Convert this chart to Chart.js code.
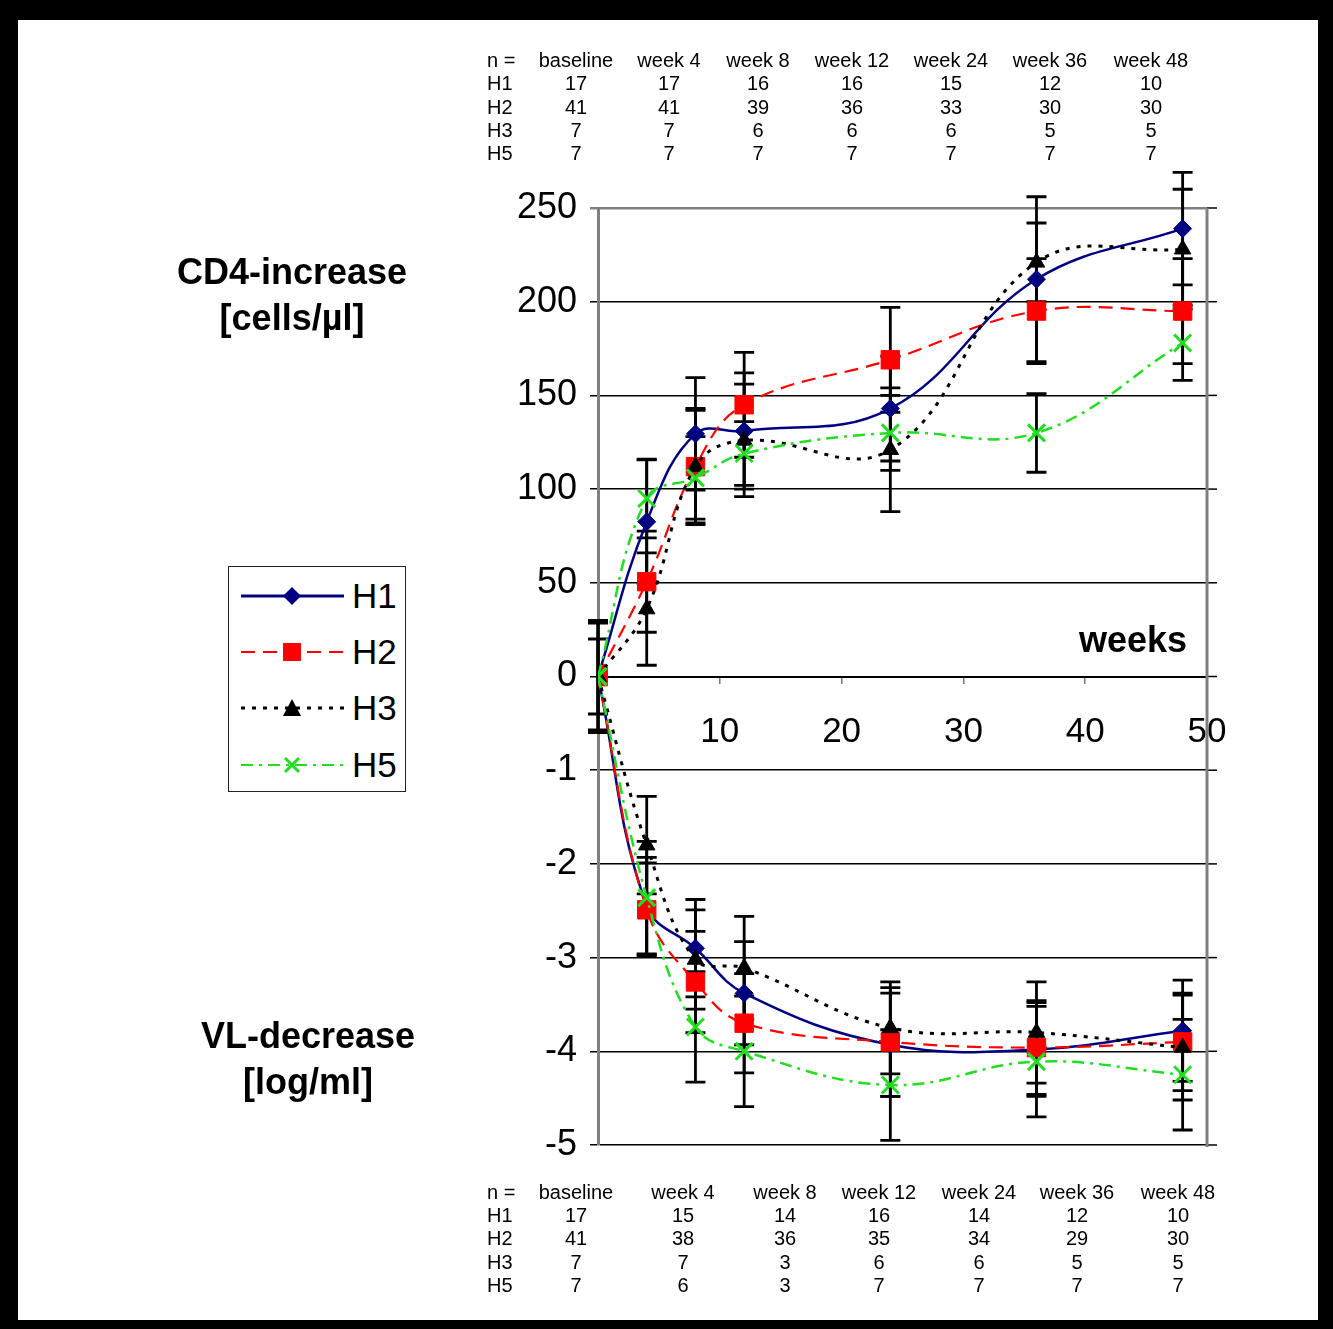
<!DOCTYPE html>
<html><head><meta charset="utf-8">
<script src="https://cdn.jsdelivr.net/npm/chart.js@4"></script>
<style>
html,body{margin:0;padding:0;}
body{width:1333px;height:1329px;background:#000;position:relative;overflow:hidden;font-family:"Liberation Sans",Arial,sans-serif;color:#000;}
#paper{position:absolute;left:18px;top:20px;width:1300px;height:1300px;background:#fff;}
#c{position:absolute;left:0;top:0;}
.cell{position:absolute;font-size:20px;line-height:23px;white-space:nowrap;}
.ctr{transform:translateX(-50%);}
.title{position:absolute;font-weight:bold;font-size:36px;line-height:46px;text-align:center;white-space:nowrap;}
#legend{position:absolute;left:228px;top:566px;width:176px;height:224px;border:1.5px solid #222;background:#fff;}
.lg{position:absolute;left:123px;font-size:35px;line-height:40px;}
</style>
</head><body>
<div id="paper"></div>
<canvas id="c" width="1333" height="1329"></canvas>
<div class="title" style="left:150px;width:284px;top:249px;">CD4-increase<br>[cells/µl]</div>
<div class="title" style="left:158px;width:300px;top:1013px;">VL-decrease<br>[log/ml]</div>
<div class="title" style="left:1040px;width:147px;top:617px;text-align:right;">weeks</div>
<div id="legend">
<svg width="176" height="224" style="position:absolute;left:0;top:0">
 <line x1="12" y1="29" x2="115" y2="29" stroke="#000080" stroke-width="3"/>
 <polygon points="63,20 72,29 63,38 54,29" fill="#000080"/>
 <line x1="12" y1="85" x2="115" y2="85" stroke="#ff0000" stroke-width="2" stroke-dasharray="14 8"/>
 <rect x="54" y="76" width="18" height="18" fill="#ff0000"/>
 <line x1="12" y1="141" x2="115" y2="141" stroke="#000" stroke-width="3" stroke-dasharray="4 7"/>
 <polygon points="63,132 72,149 54,149" fill="#000"/>
 <line x1="12" y1="198" x2="115" y2="198" stroke="#22dd22" stroke-width="2" stroke-dasharray="12 6 3 6"/>
 <line x1="56" y1="191" x2="70" y2="205" stroke="#22dd22" stroke-width="3"/>
 <line x1="70" y1="191" x2="56" y2="205" stroke="#22dd22" stroke-width="3"/>
</svg>
<div class="lg" style="top:9px">H1</div>
<div class="lg" style="top:65px">H2</div>
<div class="lg" style="top:121px">H3</div>
<div class="lg" style="top:178px">H5</div>
</div>
<script>
// ---- data ----
const weeks = [0, 4, 8, 12, 24, 36, 48];
const seriesNames = ['H1', 'H2', 'H3', 'H5'];

// CD4 increase [cells/µl]
const cd4H1 = [0, 82.6, 129.5, 131, 143, 212, 239];
const cd4H2 = [0, 50.6, 112, 145, 169, 195, 195];
const cd4H3 = [0, 36, 112, 126, 121, 221, 228];
const cd4H5 = [0, 95, 106, 119, 130, 130, 178];
const cd4ErrH1 = [0, 33, 30, 31, 28, 44, 30];
const cd4ErrH2 = [0, 27, 31, 28, 28, 28, 28];
const cd4ErrH3 = [0, 30, 30, 30, 33, 21, 32];
const cd4ErrH5 = [0, 21, 22, 17, 20, 21, 20];

// VL decrease [log/ml]
const vlH1 = [0, -2.45, -2.90, -3.38, -3.93, -3.98, -3.78];
const vlH2 = [0, -2.49, -3.26, -3.70, -3.90, -3.96, -3.90];
const vlH3 = [0, -1.80, -3.02, -3.11, -3.75, -3.80, -3.96];
const vlH5 = [0, -2.36, -3.74, -4.00, -4.36, -4.11, -4.25];
const vlErrH1 = [0.60, 0.52, 0.52, 0.55, 0.55, 0.50, 0.54];
const vlErrH2 = [0.58, 0.50, 0.54, 0.53, 0.58, 0.50, 0.52];
const vlErrH3 = [0.40, 0.52, 0.53, 0.55, 0.49, 0.54, 0.56];
const vlErrH5 = [0.57, 0.60, 0.59, 0.59, 0.59, 0.59, 0.59];

// tick labels of the shared vertical axis (bottom to top)
const yTickLabels = ['-5', '-4', '-3', '-2', '-1', '0', '50', '100', '150', '200', '250'];

// n tables
const tableCols = ['baseline', 'week 4', 'week 8', 'week 12', 'week 24', 'week 36', 'week 48'];
const nCd4H1 = [17, 17, 16, 16, 15, 12, 10];
const nCd4H2 = [41, 41, 39, 36, 33, 30, 30];
const nCd4H3 = [7, 7, 6, 6, 6, 5, 5];
const nCd4H5 = [7, 7, 7, 7, 7, 7, 7];
const nVlH1 = [17, 15, 14, 16, 14, 12, 10];
const nVlH2 = [41, 38, 36, 35, 34, 29, 30];
const nVlH3 = [7, 7, 3, 6, 6, 5, 5];
const nVlH5 = [7, 6, 3, 7, 7, 7, 7];

// ---- layout of the n tables ----
const topColX = [576, 669, 758, 852, 951, 1050, 1151];
const botColX = [576, 683, 785, 879, 979, 1077, 1178];
const topRowY = [60, 83, 107, 130, 153];
const botRowY = [1192, 1215, 1238, 1262, 1285];
const rowLabelX = 487;

function addCell(text, x, y, center) {
  const d = document.createElement('div');
  d.className = 'cell' + (center ? ' ctr' : '');
  d.textContent = text;
  d.style.left = x + 'px';
  d.style.top = (y - 11.5) + 'px';
  document.body.appendChild(d);
}
function buildTable(colX, rowY, rows) {
  addCell('n =', rowLabelX, rowY[0], false);
  tableCols.forEach((c, i) => addCell(c, colX[i], rowY[0], true));
  rows.forEach((r, j) => {
    addCell(seriesNames[j], rowLabelX, rowY[j + 1], false);
    r.forEach((v, i) => addCell(String(v), colX[i], rowY[j + 1], true));
  });
}
buildTable(topColX, topRowY, [nCd4H1, nCd4H2, nCd4H3, nCd4H5]);
buildTable(botColX, botRowY, [nVlH1, nVlH2, nVlH3, nVlH5]);

// ---- chart ----
Chart.defaults.font.family = "'Liberation Sans', Arial, sans-serif";
const styles = [
  {color: '#000080', dash: [], width: 2.5, pointStyle: 'rectRot', radius: 9, pbw: 1},
  {color: '#ff0000', dash: [14, 8], width: 2.2, pointStyle: 'rect', radius: 13, pbw: 1},
  {color: '#000000', dash: [4, 7], width: 3, pointStyle: 'triangle', radius: 9.5, pbw: 1},
  {color: '#22dd22', dash: [12, 6, 3, 6], width: 2.5, pointStyle: 'crossRot', radius: 12, pbw: 3}
];
const cd4 = [cd4H1, cd4H2, cd4H3, cd4H5];
const cd4Err = [cd4ErrH1, cd4ErrH2, cd4ErrH3, cd4ErrH5];
const vl = [vlH1, vlH2, vlH3, vlH5];
const vlErr = [vlErrH1, vlErrH2, vlErrH3, vlErrH5];

const datasets = [];
seriesNames.forEach((name, k) => {
  const s = styles[k];
  const base = {
    label: name, borderColor: s.color, backgroundColor: s.color,
    borderDash: s.dash, borderWidth: s.width, tension: 0.4,
    pointStyle: s.pointStyle, pointRadius: s.radius, pointBorderWidth: s.pbw,
    pointBackgroundColor: s.color, pointBorderColor: s.color, fill: false,
    order: 4 - k
  };
  datasets.push(Object.assign({}, base, {
    yAxisID: 'yCD4', errors: cd4Err[k],
    data: weeks.map((w, i) => ({x: w, y: cd4[k][i]}))
  }));
  datasets.push(Object.assign({}, base, {
    yAxisID: 'yVL', errors: vlErr[k],
    data: weeks.map((w, i) => ({x: w, y: vl[k][i]}))
  }));
});

const decorPlugin = {
  id: 'decor',
  beforeDatasetsDraw(chart) {
    const ctx = chart.ctx, xs = chart.scales.x, a = chart.chartArea;
    ctx.save();
    // grid line stubs right of the plot
    const yv = chart.scales.yVL;
    ctx.strokeStyle = '#000'; ctx.lineWidth = 1.5;
    yv.ticks.forEach(t => {
      const y = yv.getPixelForValue(t.value);
      ctx.beginPath(); ctx.moveTo(a.right, y); ctx.lineTo(a.right + 10, y); ctx.stroke();
    });
    // right border
    ctx.strokeStyle = '#808080'; ctx.lineWidth = 3;
    ctx.beginPath(); ctx.moveTo(xs.getPixelForValue(50), a.top); ctx.lineTo(xs.getPixelForValue(50), a.bottom + 2); ctx.stroke();
    // error bars
    ctx.strokeStyle = '#000'; ctx.lineWidth = 2.8;
    chart.data.datasets.forEach(ds => {
      const ys = chart.scales[ds.yAxisID];
      ds.data.forEach((p, i) => {
        const e = ds.errors[i];
        if (!e) return;
        const x = xs.getPixelForValue(p.x);
        const y1 = ys.getPixelForValue(p.y + e), y2 = ys.getPixelForValue(p.y - e);
        ctx.beginPath();
        ctx.moveTo(x, y1); ctx.lineTo(x, y2);
        ctx.moveTo(x - 10, y1); ctx.lineTo(x + 10, y1);
        ctx.moveTo(x - 10, y2); ctx.lineTo(x + 10, y2);
        ctx.stroke();
      });
    });
    ctx.restore();
  }
};

new Chart(document.getElementById('c'), {
  type: 'line',
  data: {datasets},
  plugins: [decorPlugin],
  options: {
    responsive: false, animation: false,
    layout: {padding: {left: 0, top: 208, right: 126, bottom: 184}},
    plugins: {legend: {display: false}, tooltip: {enabled: false}},
    scales: {
      x: {
        type: 'linear', min: 0, max: 50, position: {yVL: 0},
        ticks: {stepSize: 10, color: '#000', font: {size: 35}, padding: 29,
                callback: v => (v === 0 ? '' : String(v))},
        grid: {drawOnChartArea: false, drawTicks: true, tickLength: 6, color: '#777', lineWidth: 1.5},
        border: {display: true, color: '#000', width: 2}
      },
      yVL: {
        type: 'linear', position: 'left', min: -5, max: 5,
        ticks: {stepSize: 1, color: '#000', font: {size: 36}, padding: 13,
                callback: (v, i) => yTickLabels[i]},
        grid: {
          color: c => (c.tick && c.tick.value === 5 ? '#808080' : '#000'),
          lineWidth: c => (c.tick && c.tick.value === 5 ? 2.5 : 1.5),
          tickLength: 8
        },
        border: {display: true, color: '#808080', width: 3},
        afterFit: s => { s.width = 598; }
      },
      yCD4: {type: 'linear', display: false, min: -250, max: 250}
    }
  }
});
</script>
</body></html>
